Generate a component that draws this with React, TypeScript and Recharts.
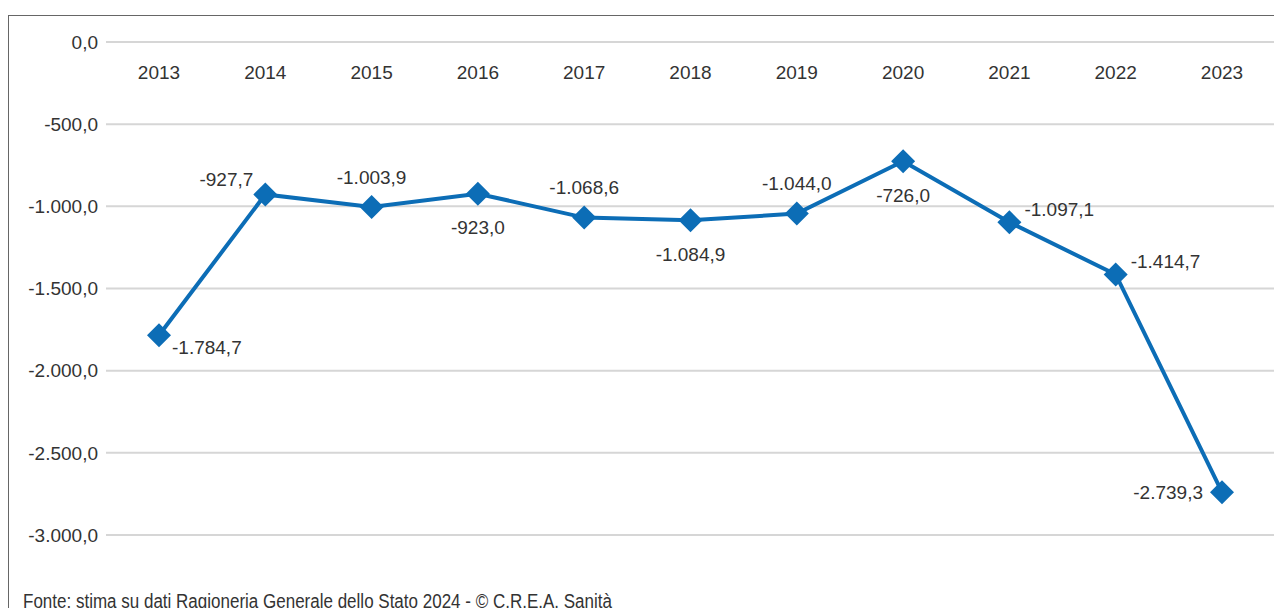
import { LineChart, Line, XAxis, YAxis, CartesianGrid, LabelList } from 'recharts';

const years = ['2013', '2014', '2015', '2016', '2017', '2018', '2019', '2020', '2021', '2022', '2023'];
const saldo = [-1784.7, -927.7, -1003.9, -923.0, -1068.6, -1084.9, -1044.0, -726.0, -1097.1, -1414.7, -2739.3];
const yTicks = [0, -500, -1000, -1500, -2000, -2500, -3000];

// where each value label sits relative to its point
const labelPlacement = ['rb', 'la', 'a', 'b', 'a', 'b', 'a', 'b', 'ra', 'ra', 'l'];

const data = years.map((year, i) => ({ year, value: saldo[i] }));

const BLUE = '#0c6db6';
const TEXT = '#333333';
const FONT = '"Liberation Sans", Arial, sans-serif';

function fmt(v: number) {
    const sign = v < 0 ? '-' : '';
    const [int, dec] = Math.abs(v).toFixed(1).split('.');
    return sign + int.replace(/\B(?=(\d{3})+(?!\d))/g, '.') + ',' + dec;
}

function Diamond(props: any) {
    const { cx, cy } = props;
    if (cx == null || cy == null) return null;
    const r = 12;
    return <polygon points={`${cx},${cy - r} ${cx + r},${cy} ${cx},${cy + r} ${cx - r},${cy}`} fill={BLUE} />;
}

function ValueLabel(props: any) {
    const { x, y, index, value } = props;
    const p = labelPlacement[index];
    let dx = 0, dy = 0, anchor: 'start' | 'middle' | 'end' = 'middle';
    if (p === 'a') dy = -30;
    if (p === 'b') dy = 34;
    if (p === 'rb') { dx = 13; dy = 12; anchor = 'start'; }
    if (p === 'la') { dx = -12; dy = -15; anchor = 'end'; }
    if (p === 'ra') { dx = 15; dy = -13; anchor = 'start'; }
    if (p === 'l') { dx = -19; anchor = 'end'; }
    return (
        <text x={x + dx} y={y + dy} dy="0.35em" textAnchor={anchor} fill={TEXT} fontSize={19} fontFamily={FONT}>
            {fmt(value)}
        </text>
    );
}

export default function App() {
    return (
        <div style={{ position: 'relative', width: 1274, height: 600 }}>
            <div
                style={{
                    position: 'absolute',
                    left: 0,
                    top: 7,
                    width: 1274,
                    height: 601,
                    borderTop: '1px solid #666',
                    borderLeft: '1px solid #666',
                    boxSizing: 'border-box',
                }}
            />
            <div style={{ position: 'absolute', left: 1, top: 8 }}>
                <LineChart width={1273} height={560} data={data} margin={{ top: 26, right: 7, bottom: 41, left: 0 }}>
                    <CartesianGrid vertical={false} stroke="#d6d6d6" strokeWidth={2} />
                    <XAxis
                        dataKey="year"
                        orientation="top"
                        mirror
                        padding={{ left: 53, right: 53 }}
                        axisLine={false}
                        tickLine={false}
                        tickSize={0}
                        tickMargin={24}
                        tick={{ fill: TEXT, fontSize: 19, fontFamily: FONT }}
                        interval={0}
                    />
                    <YAxis
                        domain={[-3000, 0]}
                        ticks={yTicks}
                        width={97}
                        axisLine={false}
                        tickLine={false}
                        tickSize={0}
                        tickMargin={8}
                        tickFormatter={fmt}
                        tick={{ fill: TEXT, fontSize: 19, fontFamily: FONT }}
                        interval={0}
                    />
                    <Line
                        dataKey="value"
                        stroke={BLUE}
                        strokeWidth={4}
                        dot={<Diamond />}
                        activeDot={false}
                        isAnimationActive={false}
                    >
                        <LabelList dataKey="value" content={<ValueLabel />} />
                    </Line>
                </LineChart>
            </div>
            <div
                style={{
                    position: 'absolute',
                    left: 15,
                    top: 583,
                    fontFamily: FONT,
                    fontSize: 20,
                    lineHeight: '20px',
                    color: TEXT,
                    whiteSpace: 'nowrap',
                    transform: 'scaleX(0.85)',
                    transformOrigin: 'left top',
                }}
            >
                Fonte: stima su dati Ragioneria Generale dello Stato 2024 - © C.R.E.A. Sanità
            </div>
        </div>
    );
}
